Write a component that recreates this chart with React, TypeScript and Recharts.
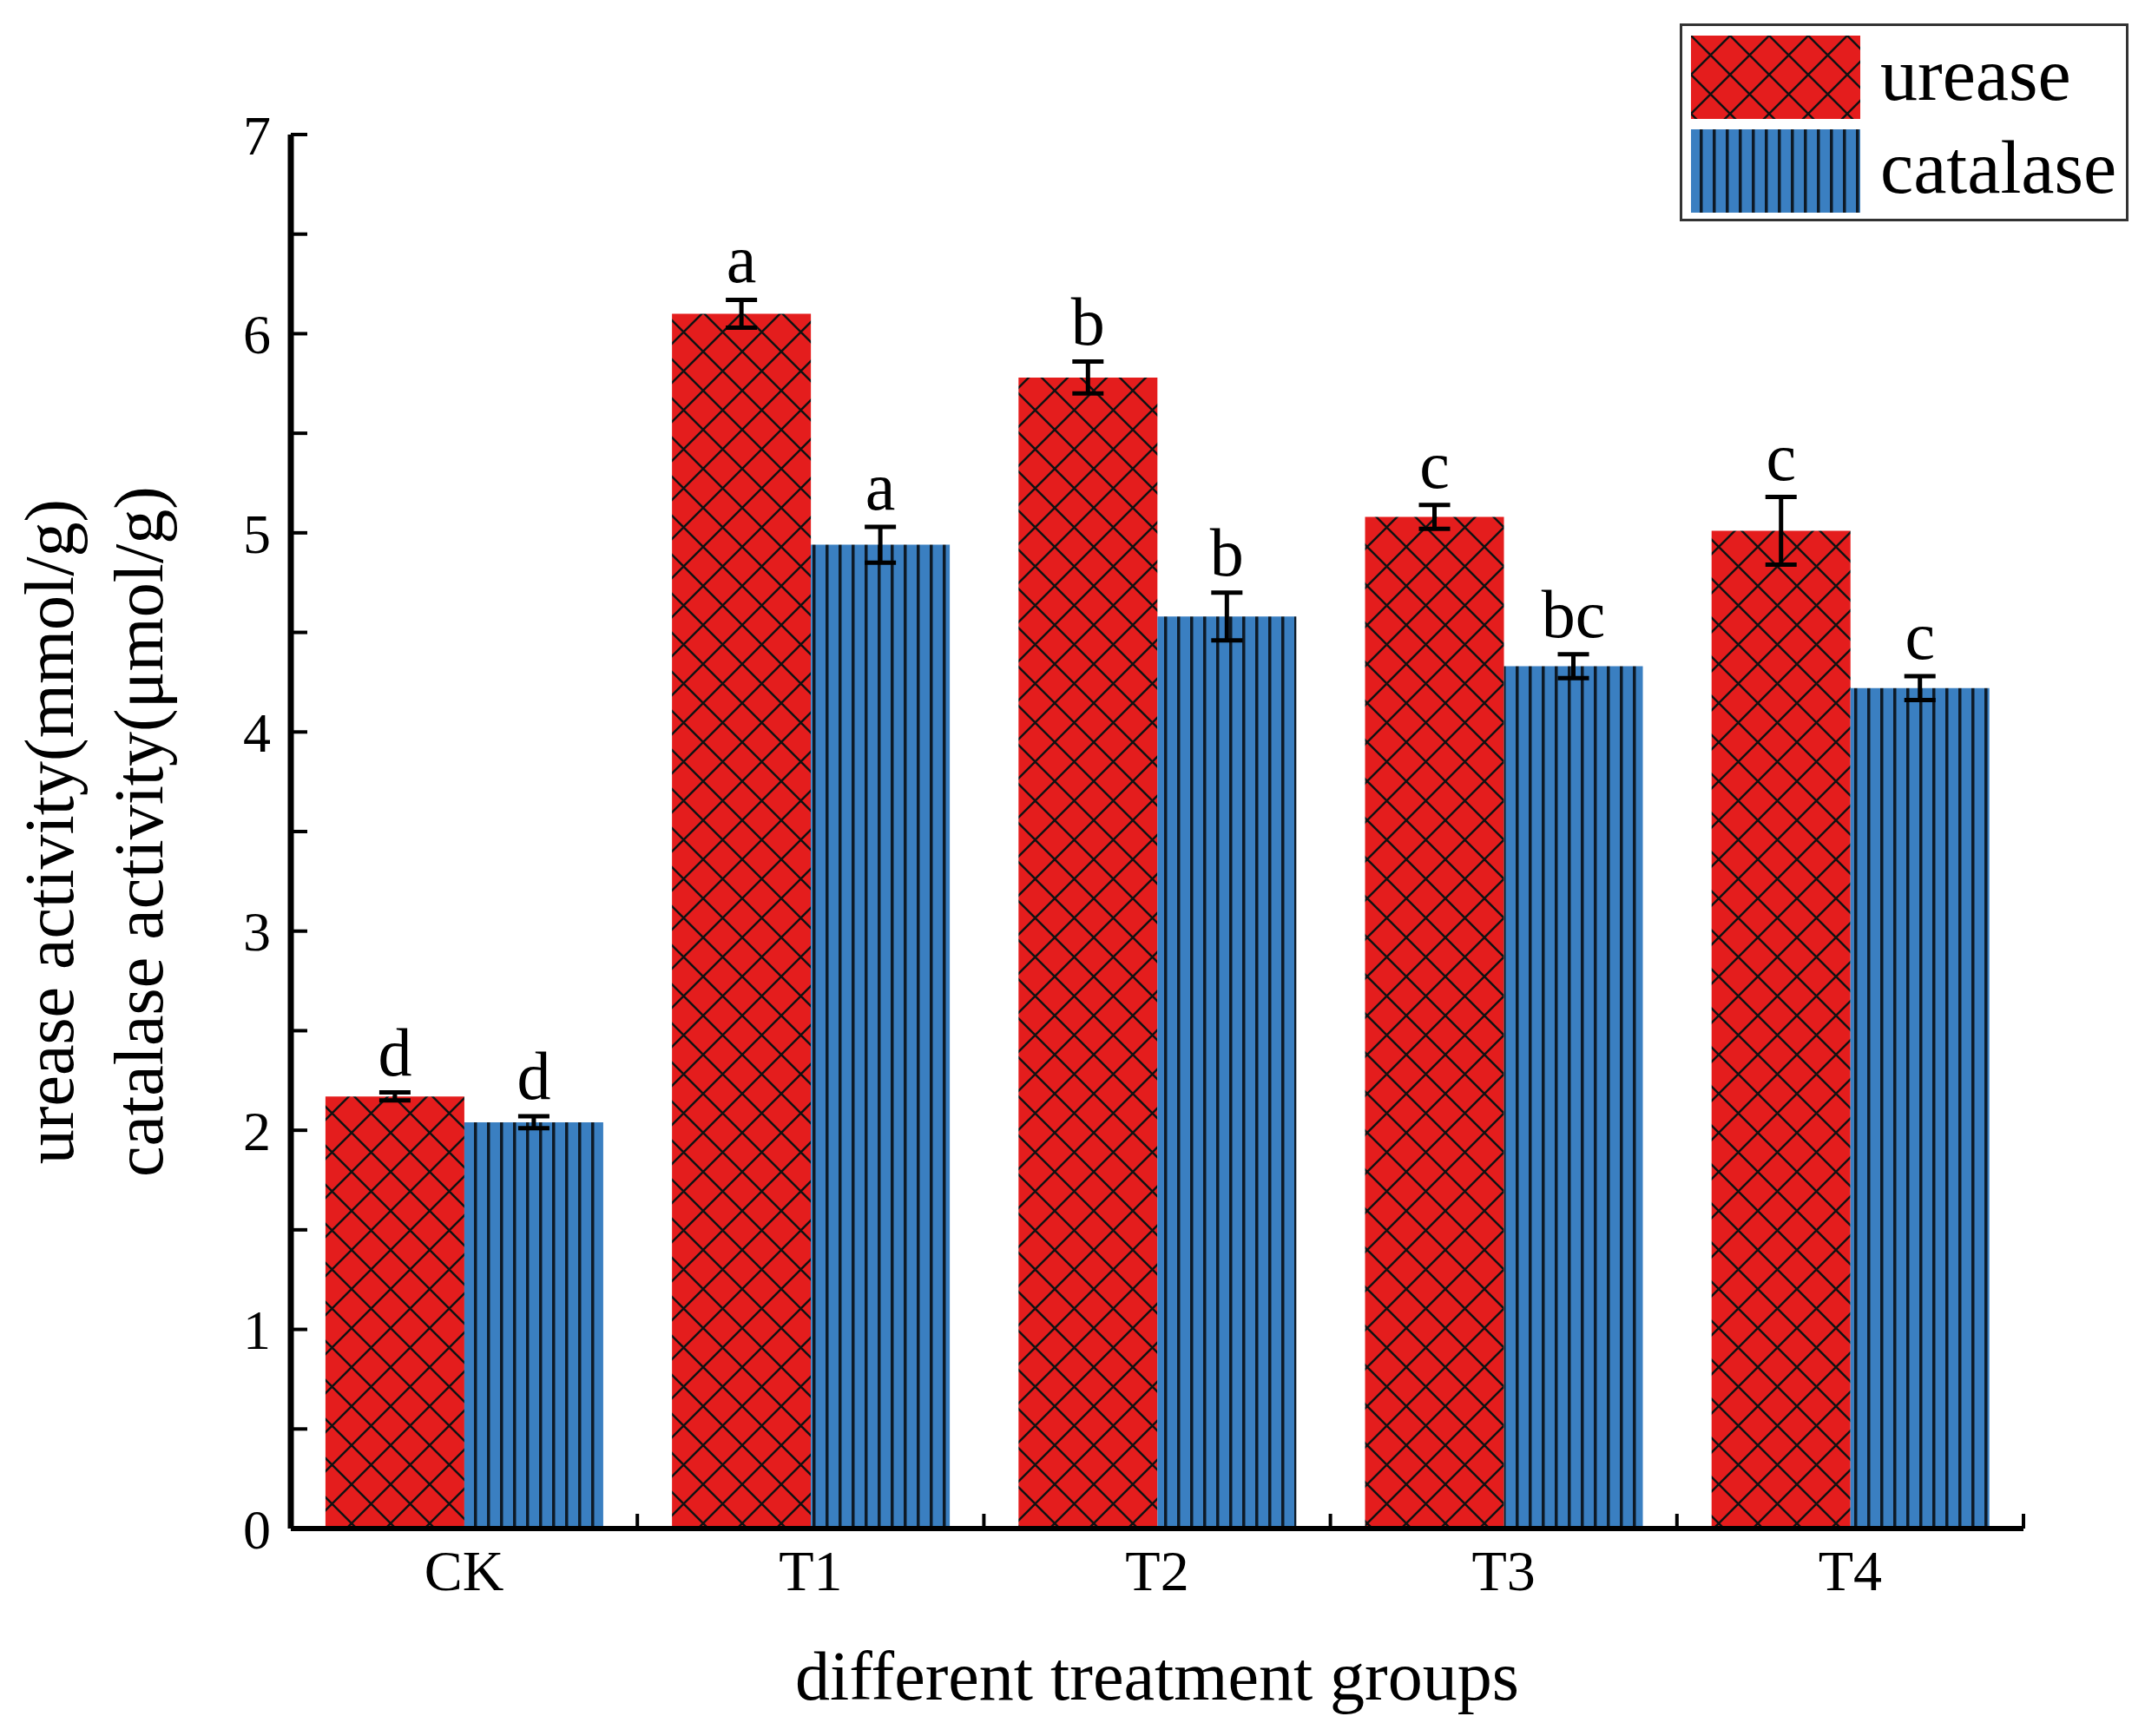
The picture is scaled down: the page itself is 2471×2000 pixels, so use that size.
import React from "react";
import { BarChart, Bar, XAxis, YAxis, ErrorBar, LabelList, Legend } from "recharts";

const groups = ["CK", "T1", "T2", "T3", "T4"];
const ureaseValues = [2.17, 6.1, 5.78, 5.08, 5.01];
const ureaseErrors = [0.02, 0.07, 0.08, 0.06, 0.17];
const ureaseLetters = ["d", "a", "b", "c", "c"];
const catalaseValues = [2.04, 4.94, 4.58, 4.33, 4.22];
const catalaseErrors = [0.03, 0.09, 0.12, 0.06, 0.06];
const catalaseLetters = ["d", "a", "b", "bc", "c"];
const yTicks = [0, 0.5, 1, 1.5, 2, 2.5, 3, 3.5, 4, 4.5, 5, 5.5, 6, 6.5, 7];
const seriesNames = ["urease", "catalase"];
const xTitle = "different treatment groups";
const yTitleLines = ["urease activity(mmol/g)", "catalase activity(μmol/g)"];

const data = groups.map((g, i) => ({
  name: g,
  urease: ureaseValues[i],
  ureaseErr: ureaseErrors[i],
  catalase: catalaseValues[i],
  catalaseErr: catalaseErrors[i],
}));

const FONT = "'Liberation Serif', 'Times New Roman', serif";
const W = 2471;
const H = 2000;
const PLOT_LEFT = 335;
const PLOT_RIGHT = 2331;
const PLOT_TOP = 155;
const PLOT_BOTTOM = 1761;
const Y_AXIS_W = 120;
const X_AXIS_H = 100;
const RED = "#E41D1D";
const BLUE = "#3A7FC1";

// letters drawn above the error bar of each bar
const letterContent = (letters: string[], errors: number[]) => (props: any) => {
  const vb = props.viewBox || props;
  const x = vb.x ?? props.x;
  const y = vb.y ?? props.y;
  const w = vb.width ?? props.width;
  const h = vb.height ?? props.height;
  const i = props.index ?? 0;
  const v = Number(props.value);
  const pxPerUnit = v ? h / v : 0;
  const top = y - errors[i] * pxPerUnit;
  return (
    <text
      x={x + w / 2}
      y={top - 20}
      textAnchor="middle"
      fontSize={78}
      fontFamily={FONT}
      fill="#000"
    >
      {letters[i]}
    </text>
  );
};

const XTick = (props: any) => {
  const { x, y, payload, index } = props;
  const band = (PLOT_RIGHT - PLOT_LEFT) / groups.length;
  return (
    <g>
      <line x1={x - band / 2} x2={x - band / 2} y1={y} y2={y - 17} stroke="#000" strokeWidth={4} />
      {index === groups.length - 1 && (
        <line x1={x + band / 2} x2={x + band / 2} y1={y} y2={y - 17} stroke="#000" strokeWidth={4} />
      )}
      <text x={x} y={y + 71} textAnchor="middle" fontSize={66} fontFamily={FONT} fill="#000">
        {payload.value}
      </text>
    </g>
  );
};

const renderXTitle = () => (
  <text
    x={(PLOT_LEFT + PLOT_RIGHT) / 2}
    y={1958}
    textAnchor="middle"
    fontSize={80}
    fontFamily={FONT}
    fill="#000"
  >
    {xTitle}
  </text>
);

const renderYTitle = () => {
  const cy = (PLOT_TOP + PLOT_BOTTOM) / 2;
  const xs = [84, 187];
  return (
    <g>
      {yTitleLines.map((t, i) => (
        <text
          key={t}
          x={xs[i]}
          y={cy}
          transform={`rotate(-90, ${xs[i]}, ${cy})`}
          textAnchor="middle"
          fontSize={80}
          fontFamily={FONT}
          fill="#000"
        >
          {t}
        </text>
      ))}
    </g>
  );
};

const renderLegend = (props: any) => {
  const payload = [...(props.payload || [])].sort(
    (a: any, b: any) => seriesNames.indexOf(a.value) - seriesNames.indexOf(b.value)
  );
  const fills: Record<string, string> = { urease: "url(#legUrease)", catalase: "url(#legCatalase)" };
  return (
    <svg width={517} height={228} style={{ display: "block" }}>
      <defs>
        <pattern id="legUrease" patternUnits="userSpaceOnUse" width={45} height={45} x={13} y={14}>
          <rect width={45} height={45} fill={RED} />
          <path d="M0,0 L45,45 M45,0 L0,45" stroke="#111" strokeWidth={2.5} />
        </pattern>
        <pattern id="legCatalase" patternUnits="userSpaceOnUse" width={15} height={15} x={13}>
          <rect width={15} height={15} fill={BLUE} />
          <rect x={10} width={3.5} height={15} fill="#0E1A26" />
        </pattern>
      </defs>
      <rect x={1.5} y={1.5} width={514} height={225} fill="#fff" stroke="#333" strokeWidth={3} />
      {payload.map((entry: any, i: number) => (
        <g key={entry.value}>
          <rect x={13} y={14 + i * 108} width={195} height={96} fill={fills[entry.value] || entry.color} />
          <text x={231} y={88 + i * 107} fontSize={86} fontFamily={FONT} fill="#000">
            {entry.value}
          </text>
        </g>
      ))}
    </svg>
  );
};

export default function App() {
  return (
    <div style={{ position: "absolute", left: 0, top: 0, width: W, height: H, background: "#fff" }}>
      <BarChart
        width={W}
        height={H}
        data={data}
        margin={{
          top: PLOT_TOP,
          right: W - PLOT_RIGHT,
          bottom: H - PLOT_BOTTOM - X_AXIS_H,
          left: PLOT_LEFT - Y_AXIS_W,
        }}
        barCategoryGap="10%"
        barGap={0}
      >
        <defs>
          <pattern id="ureaseHatch" patternUnits="userSpaceOnUse" width={45} height={45}>
            <rect width={45} height={45} fill={RED} />
            <path d="M0,0 L45,45 M45,0 L0,45" stroke="#111" strokeWidth={2.5} />
          </pattern>
          <pattern id="catalaseLines" patternUnits="userSpaceOnUse" width={15} height={15}>
            <rect width={15} height={15} fill={BLUE} />
            <rect x={6} width={3.5} height={15} fill="#0E1A26" />
          </pattern>
        </defs>
        <XAxis
          dataKey="name"
          height={X_AXIS_H}
          axisLine={{ stroke: "#000", strokeWidth: 6 }}
          tickLine={false}
          tickSize={0}
          tickMargin={0}
          interval={0}
          tick={<XTick />}
          label={{ content: renderXTitle }}
        />
        <YAxis
          width={Y_AXIS_W}
          domain={[0, 7]}
          ticks={yTicks}
          interval={0}
          allowDataOverflow
          axisLine={{ stroke: "#000", strokeWidth: 7 }}
          tickLine={{ stroke: "#000", strokeWidth: 4 }}
          tickSize={-19}
          tickMargin={42}
          tickFormatter={(v: number) => (Number.isInteger(v) ? String(v) : "")}
          tick={{ fontSize: 64, fontFamily: FONT, fill: "#000" }}
          label={{ content: renderYTitle }}
        />
        <Legend
          layout="vertical"
          align="center"
          verticalAlign="middle"
          content={renderLegend}
          wrapperStyle={{ position: "absolute", left: 1935, top: 27, width: 517, height: 228 }}
        />
        <Bar dataKey="urease" name={seriesNames[0]} fill="url(#ureaseHatch)" isAnimationActive={false}>
          <ErrorBar dataKey="ureaseErr" width={18} stroke="#000" strokeWidth={5} isAnimationActive={false} />
          <LabelList dataKey="urease" content={letterContent(ureaseLetters, ureaseErrors)} />
        </Bar>
        <Bar dataKey="catalase" name={seriesNames[1]} fill="url(#catalaseLines)" isAnimationActive={false}>
          <ErrorBar dataKey="catalaseErr" width={18} stroke="#000" strokeWidth={5} isAnimationActive={false} />
          <LabelList dataKey="catalase" content={letterContent(catalaseLetters, catalaseErrors)} />
        </Bar>
      </BarChart>
    </div>
  );
}
